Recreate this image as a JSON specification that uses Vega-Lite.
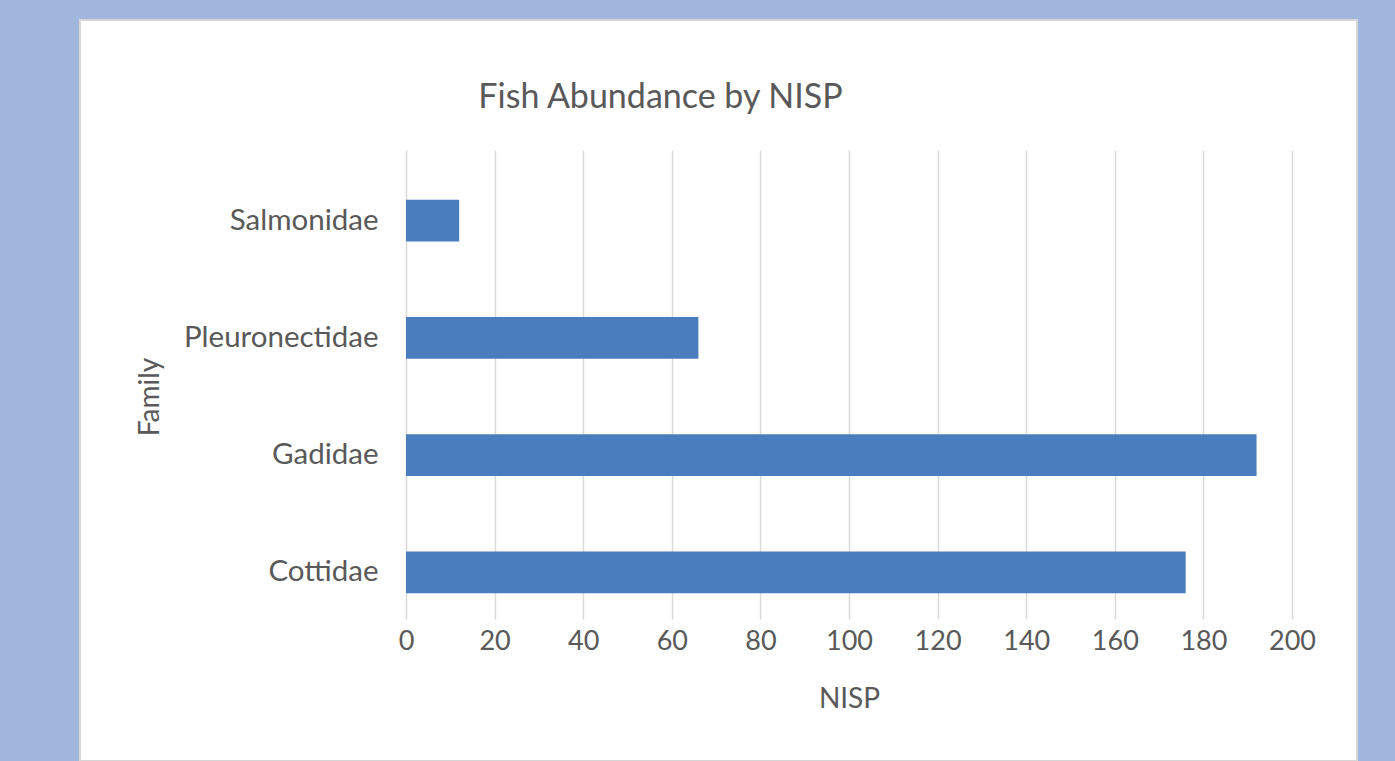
{
  "$schema": "https://vega.github.io/schema/vega-lite/v6.json",
  "width": 1277,
  "height": 741,
  "autosize": {"type": "none"},
  "padding": {"left": 80, "top": 20, "right": 38, "bottom": 0},
  "background": "#a1b6dd",
  "view": {"fill": "white", "stroke": "#d6d6d6", "strokeWidth": 2},
  "title": {
    "text": "Fish Abundance by NISP",
    "anchor": "middle",
    "frame": "group",
    "offset": -122,
    "dx": -58,
    "baseline": "alphabetic",
    "font": "Lato",
    "fontSize": 34,
    "fontWeight": "normal",
    "color": "#595959"
  },
  "data": {
    "values": [
      {"family": "Salmonidae", "nisp": 12},
      {"family": "Pleuronectidae", "nisp": 66},
      {"family": "Gadidae", "nisp": 192},
      {"family": "Cottidae", "nisp": 176}
    ]
  },
  "mark": {"type": "bar", "color": "#4a7dbd"},
  "encoding": {
    "y": {
      "field": "family",
      "type": "nominal",
      "sort": ["Salmonidae", "Pleuronectidae", "Gadidae", "Cottidae"],
      "scale": {"range": [142, 611], "paddingInner": 0.646, "paddingOuter": 0.323},
      "axis": {
        "title": "Family",
        "orient": "left",
        "offset": -326,
        "domain": false,
        "ticks": false,
        "tickSize": 0,
        "grid": false,
        "labelPadding": 28,
        "labelFontSize": 29.5,
        "labelFont": "Lato",
        "labelColor": "#595959",
        "labelLimit": 400,
        "titleFont": "Lato",
        "titleFontSize": 28,
        "titleFontWeight": "normal",
        "titleColor": "#595959",
        "titlePadding": 42
      }
    },
    "x": {
      "field": "nisp",
      "type": "quantitative",
      "scale": {"domain": [0, 200], "range": [326, 1212], "nice": false},
      "axis": {
        "title": "NISP",
        "orient": "bottom",
        "offset": -158,
        "values": [0, 20, 40, 60, 80, 100, 120, 140, 160, 180, 200],
        "labelFlush": false,
        "domain": false,
        "ticks": false,
        "tickSize": 0,
        "grid": true,
        "gridColor": "#d9d9d9",
        "gridWidth": 1.5,
        "labelPadding": 25,
        "labelFontSize": 27,
        "labelFont": "Lato",
        "labelColor": "#595959",
        "titleFont": "Lato",
        "titleFontSize": 28,
        "titleFontWeight": "normal",
        "titleColor": "#595959",
        "titlePadding": 31
      }
    }
  }
}
